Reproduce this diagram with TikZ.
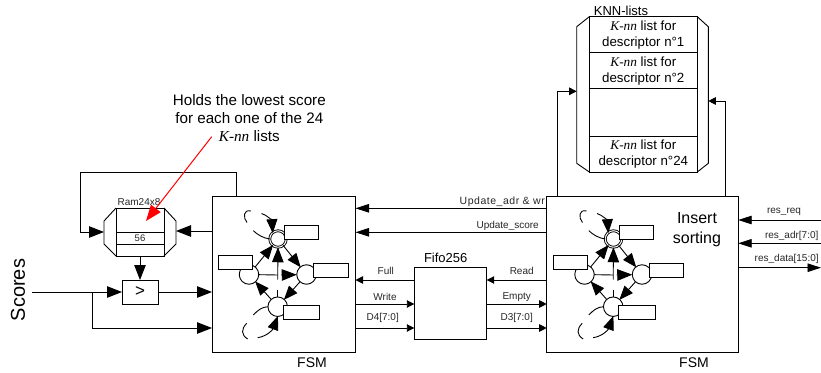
\documentclass[tikz,border=0pt]{standalone}
\usepackage{fontspec}
\setmainfont{Liberation Sans}
\newfontfamily\knnfont{Liberation Serif}
\usetikzlibrary{arrows.meta}
\newcommand{\knn}{{\knnfont\itshape K-nn}}
\tikzset{
  ln/.style={line width=0.9pt,draw=black},
  big/.style={ln,-{Triangle[length=15pt,width=11.5pt]}},
  med/.style={ln,-{Triangle[length=13.5pt,width=8.5pt]}},
  sml/.style={ln,-{Triangle[length=7.5pt,width=7.5pt]}},
  st/.style={ln,-{Triangle[length=14pt,width=11pt]},shorten >=-0.5pt},
  plain/.style={ln},
  boxn/.style={draw=black,line width=0.9pt,fill=white,inner sep=0pt,outer sep=0pt,rectangle,anchor=north west},
  state/.style={circle,draw=black,line width=0.9pt,fill=white,inner sep=0pt,outer sep=0pt,minimum size=19.5pt},
  tag/.style={boxn},
  lab/.style={inner sep=0pt,font=\fontsize{10pt}{11pt}\selectfont,text=black!85},
  txt/.style={inner sep=0pt,align=center},
}
% finite state machine drawing, repeated inside both FSM blocks
\newcommand{\fsmdraw}[2]{%
\begin{scope}[xshift=#1pt]
  \node[state,double,double distance=1pt,minimum size=16.5pt] (#2top) at (278,239) {};
  \node[state] (#2left) at (249,274.5) {};
  \node[state] (#2right) at (306.5,274.5) {};
  \node[state] (#2bot) at (277.7,306.7) {};
  \coordinate (#2hEnd) at (277.7,275);
  \coordinate (#2hStart) at (281,275);
  \coordinate (#2vStart) at (277.7,279.5);
  \coordinate (#2vEnd) at (277.7,290);
  \coordinate (#2a1) at (251,211);
  \coordinate (#2a2) at (247,222.5);
  \coordinate (#2a3) at (261.5,213.5);
  \coordinate (#2a4) at (253.3,230.7);
  \coordinate (#2b1) at (253.3,315);
  \coordinate (#2b2) at (246.7,323.3);
  \coordinate (#2b3) at (247.7,339);
  \coordinate (#2b4) at (257.7,337.7);
  \draw[st] (#2left) -- (#2top);
  \draw[st] (#2top) -- (#2right);
  \draw[st] (#2right) -- (#2bot);
  \draw[st] (#2bot) -- (#2left);
  \draw[plain] (#2left) -- (#2hEnd);
  \draw[big] (#2hStart) -- (#2right);
  \draw[big] (#2vStart) -- (#2top);
  \draw[plain] (#2bot) -- (#2vEnd);
  \draw[plain] (#2a1) .. controls (243,209) and (243,218) .. (#2a2);
  \draw[st] (#2a3) .. controls (267,215) and (272,221) .. (#2top.130);
  \draw[plain] (#2a4) .. controls (258,235) and (263,238) .. (#2top.west);
  \draw[plain] (#2b1) .. controls (258,310) and (262,307) .. (#2bot.west);
  \draw[plain] (#2b2) .. controls (241,329) and (241,335) .. (#2b3);
  \draw[st] (#2b4) .. controls (268,336) and (273,329) .. (#2bot.south);
  \node[tag,minimum width=34pt,minimum height=14pt] (#2tagT) at (284.3,225.3) {};
  \node[tag,minimum width=34pt,minimum height=14pt] (#2tagL) at (218,255.3) {};
  \node[tag,minimum width=34.5pt,minimum height=14pt] (#2tagR) at (313.7,263) {};
  \node[tag,minimum width=36.5pt,minimum height=13.5pt] (#2tagB) at (283.3,305.7) {};
\end{scope}}
\begin{document}
\begin{tikzpicture}[x=1pt,y=-1pt]
\useasboundingbox (0,0) rectangle (821,372);
% main blocks
\node[boxn,minimum width=143.5pt,minimum height=156pt] (fsmA) at (212,196) {};
\node[boxn,minimum width=191.5pt,minimum height=156pt] (fsmB) at (546.7,196) {};
\node[boxn,minimum width=72.4pt,minimum height=72pt] (fifo) at (414.3,267.3) {};
\node[boxn,minimum width=36pt,minimum height=24pt,font=\fontsize{17pt}{18pt}\selectfont] (cmp) at (122,280) {>};
% Ram
\node[boxn,minimum width=48pt,minimum height=48pt] (ram) at (116,208) {};
\coordinate (ramA) at (104,221); \coordinate (ramB) at (104,244);
\coordinate (ramC) at (176,221); \coordinate (ramD) at (176,244);
\coordinate (ramW) at (104,232); \coordinate (ramE) at (176,231);
\draw[ln] (ram.north west) -- (ramA) -- (ramB) -- (ram.south west);
\draw[ln] (ram.north east) -- (ramC) -- (ramD) -- (ram.south east);
\node[boxn,minimum width=48pt,minimum height=12pt,fill=none,font=\fontsize{9.5pt}{10pt}\selectfont,text=black!85] (ramcell) at (116,232) {56};
\node[lab] (ramlab) at (139,202) {Ram24x8};
% KNN lists
\node[boxn,minimum width=108pt,minimum height=36pt,align=center,font=\fontsize{13.3pt}{16pt}\selectfont] (k1) at (589.3,16.7) {\knn{} list for\\descriptor n°1};
\node[boxn,minimum width=108pt,minimum height=36pt,align=center,font=\fontsize{13.3pt}{16pt}\selectfont] (k2) at (589.3,52.7) {\knn{} list for\\descriptor n°2};
\node[boxn,minimum width=108pt,minimum height=48pt] (k3) at (589.3,88.7) {};
\node[boxn,minimum width=108pt,minimum height=35.3pt,align=center,font=\fontsize{13.3pt}{16pt}\selectfont] (k4) at (589.3,136.7) {\knn{} list for\\descriptor n°24};
\coordinate (kA) at (576.7,26.7); \coordinate (kB) at (576.7,163.3);
\coordinate (kC) at (708.3,26.7); \coordinate (kD) at (708.3,163.3);
\draw[ln] (k1.north west) -- (kA) -- (kB) -- (k4.south west);
\draw[ln] (k1.north east) -- (kC) -- (kD) -- (k4.south east);
\node[txt,font=\fontsize{13pt}{15pt}\selectfont] (knnlab) at (621,10.5) {KNN-lists};
% Ram connectors
\coordinate (cLoopA) at (236,172);
\coordinate (cLoopB) at (80,172);
\coordinate (cLoopC) at (80,232);
\draw[big] (fsmA.north west -| cLoopA) -- (cLoopA) -- (cLoopB) -- (cLoopC) -- (ramW);
\draw[big] (fsmA.west |- ramE) -- (ramE);
\draw[big] (ram.south) -- (cmp.north);
% Scores
\coordinate (sIn) at (32,292);
\coordinate (sJoin) at (92,292);
\coordinate (sLow) at (92,328);
\draw[big] (sIn) -- (cmp.west);
\draw[big] (sJoin) -- (sLow) -- (fsmA.west |- sLow);
\draw[big] (cmp.east) -- (fsmA.west |- cmp.east);
\node[txt,rotate=90,font=\fontsize{20pt}{22pt}\selectfont] (scores) at (18,290) {Scores};
% FSM to FSM
\coordinate (y1) at (0,208.3); \coordinate (y2) at (0,232.3);
\coordinate (y3) at (0,280); \coordinate (y4) at (0,304); \coordinate (y5) at (0,328);
\draw[med] (fsmB.west |- y1) -- (fsmA.east |- y1);
\draw[med] (fsmB.west |- y2) -- (fsmA.east |- y2);
\draw[sml] (fifo.west |- y3) -- (fsmA.east |- y3);
\draw[sml] (fsmA.east |- y4) -- (fifo.west |- y4);
\draw[sml] (fsmA.east |- y5) -- (fifo.west |- y5);
\draw[sml] (fsmB.west |- y3) -- (fifo.east |- y3);
\draw[sml] (fifo.east |- y4) -- (fsmB.west |- y4);
\draw[sml] (fifo.east |- y5) -- (fsmB.west |- y5);
\node[lab,anchor=east,font=\fontsize{10.5pt}{11pt}\selectfont\addfontfeature{LetterSpace=5}] (lUa) at (545,202) {Update\_adr \& wr};
\node[lab,anchor=east] (lUs) at (539,226) {Update\_score};
\node[txt,font=\fontsize{13pt}{15pt}\selectfont] (lFifo) at (445.7,258) {Fifo256};
\node[lab] (lFull) at (385.7,270.7) {Full};
\node[lab] (lWrite) at (385,296.7) {Write};
\node[lab] (lD4) at (382.7,317.7) {D4[7:0]};
\node[lab] (lRead) at (521.7,270.7) {Read};
\node[lab] (lEmpty) at (516.7,296.7) {Empty};
\node[lab] (lD3) at (516.7,317.7) {D3[7:0]};
% KNN connectors
\coordinate (kl1) at (557.7,91.3);
\coordinate (kl2) at (576.7,91.3);
\coordinate (kr1) at (725,101);
\coordinate (kr2) at (708.3,101);
\draw[sml] (fsmB.north west -| kl1) -- (kl1) -- (kl2);
\draw[sml] (fsmB.north west -| kr1) -- (kr1) -- (kr2);
% external port connectors
\coordinate (pReq) at (821,220);
\coordinate (pAdr) at (821,243.3);
\coordinate (pData) at (821,267.7);
\draw[med] (pReq) -- (fsmB.east |- pReq);
\draw[med] (pAdr) -- (fsmB.east |- pAdr);
\draw[med] (fsmB.east |- pData) -- (pData);
\node[lab] (lReq) at (784,212) {res\_req};
\node[lab] (lAdr) at (791.7,236) {res\_adr[7:0]};
\node[lab] (lData) at (786.7,259) {res\_data[15:0]};
% FSM internals
\fsmdraw{0}{p}
\fsmdraw{335.5}{q}
\node[txt,font=\fontsize{14pt}{16pt}\selectfont] (fsmAl) at (312,363) {FSM};
\node[txt,font=\fontsize{14pt}{16pt}\selectfont] (fsmBl) at (694,363) {FSM};
\node[txt,font=\fontsize{16pt}{20pt}\selectfont] (ins) at (697,230) {Insert\\sorting};
% annotation
\node[txt,font=\fontsize{15.2pt}{18pt}\selectfont] (note) at (249.3,118) {Holds the lowest score\\for each one of the 24\\\knn{} lists};
\coordinate (rStart) at (211.7,136.7);
\coordinate (rEnd) at (146,221);
\draw[draw=red,line width=1pt,-{Triangle[length=16pt,width=12pt]}] (rStart) -- (rEnd);
\end{tikzpicture}
\end{document}
